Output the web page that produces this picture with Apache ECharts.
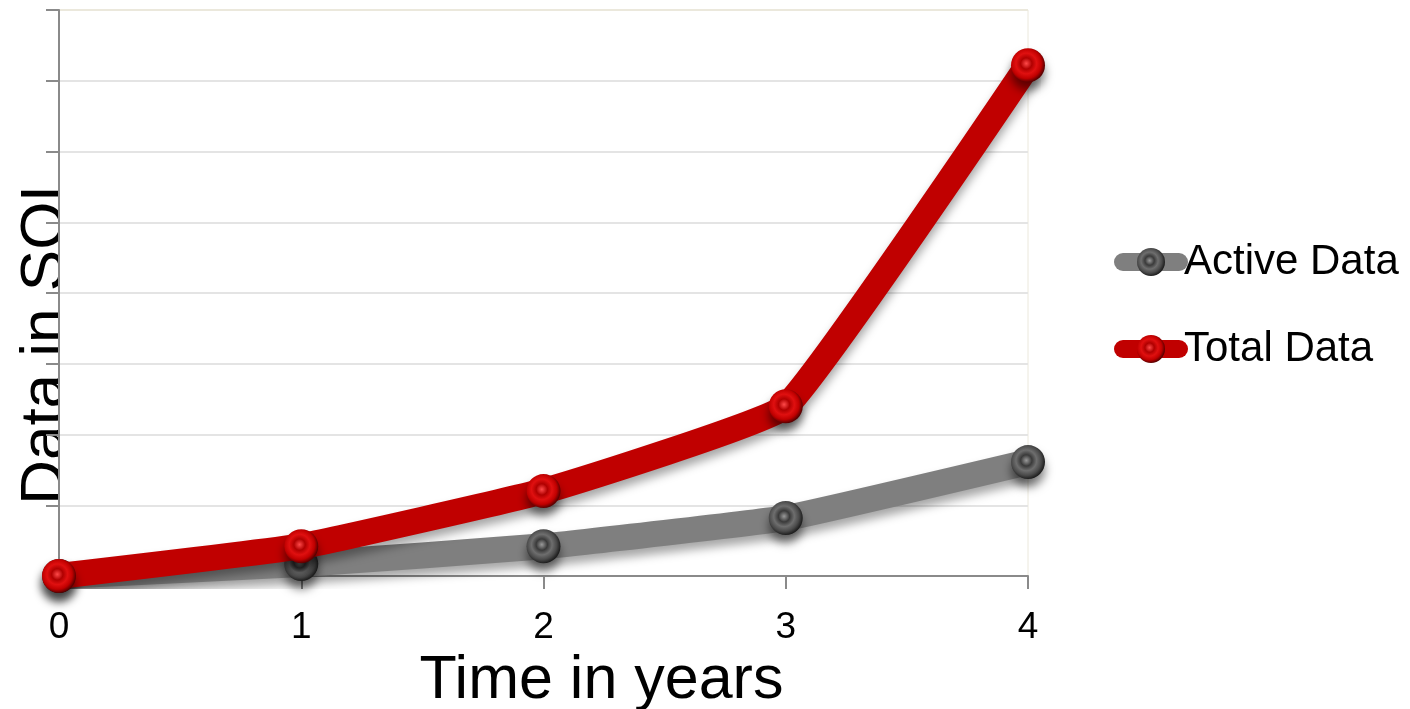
<!DOCTYPE html>
<html>
<head>
<meta charset="utf-8">
<script src="https://cdn.jsdelivr.net/npm/echarts@6/dist/echarts.min.js"></script>
<style>
html,body{margin:0;padding:0;background:#fff;}
#main{width:1410px;height:709px;}
</style>
</head>
<body>
<div id="main"></div>
<script>
const categories = ['0', '1', '2', '3', '4'];
const activeData = [0, 0.17, 0.42, 0.82, 1.61];
const totalData = [0, 0.42, 1.2, 2.4, 7.22];
const seriesNames = ['Active Data', 'Total Data'];
const xTitle = 'Time in years';
const yTitle = 'Data in SQL';

const FONT = '"Liberation Sans", Arial, sans-serif';

function marker(kind) {
  if (kind === 'red') {
    return {
      type: 'radial', x: 0.45, y: 0.45, r: 0.55,
      colorStops: [
        { offset: 0, color: '#ff4a4a' },
        { offset: 0.3, color: '#b00000' },
        { offset: 0.55, color: '#e01010' },
        { offset: 0.8, color: '#c00000' },
        { offset: 1, color: '#5a0000' }
      ]
    };
  }
  return {
    type: 'radial', x: 0.45, y: 0.45, r: 0.55,
    colorStops: [
      { offset: 0, color: '#9a9a9a' },
      { offset: 0.3, color: '#3a3a3a' },
      { offset: 0.55, color: '#6e6e6e' },
      { offset: 0.8, color: '#4a4a4a' },
      { offset: 1, color: '#1e1e1e' }
    ]
  };
}

const chart = echarts.init(document.getElementById('main'), null, { renderer: 'canvas' });

const gridLineColors = ['#e4e4e4','#e4e4e4','#e4e4e4','#e4e4e4','#e4e4e4','#e4e4e4','#e4e4e4','#e4e4e4','#ebe8dc'];

chart.setOption({
  animation: false,
  backgroundColor: '#ffffff',
  textStyle: { fontFamily: FONT },
  grid: {
    left: 59, right: 382, top: 10, bottom: 133,
    outerBoundsMode: 'none',
    containLabel: false,
    show: true, backgroundColor: '#ffffff', borderColor: '#ebe8dc', borderWidth: 1
  },
  graphic: [{
    type: 'text',
    x: 46, y: 336,
    rotation: Math.PI / 2,
    z: -1,
    style: {
      text: yTitle,
      font: '62px ' + FONT,
      fill: '#000',
      align: 'center', verticalAlign: 'middle',
      textAlign: 'center', textVerticalAlign: 'middle'
    }
  }],
  legend: {
    orient: 'vertical',
    left: 1114, top: 241,
    padding: 0,
    itemWidth: 56, itemHeight: 35, itemGap: 45,
    data: seriesNames,
    textStyle: { fontSize: 42, color: '#000', fontFamily: FONT },
    lineStyle: { width: 18, cap: 'round' }
  },
  xAxis: {
    type: 'category',
    data: categories,
    boundaryGap: false,
    name: xTitle,
    nameLocation: 'middle',
    nameGap: 62,
    nameTextStyle: { fontSize: 61, color: '#000', fontFamily: FONT, padding: [0, 0, 0, 116] },
    axisLine: { lineStyle: { color: '#8a8a8a', width: 2 } },
    axisTick: { show: true, length: 13, alignWithLabel: true, lineStyle: { color: '#8a8a8a', width: 2 } },
    axisLabel: { fontSize: 37, color: '#000', margin: 33, fontFamily: FONT },
    splitLine: { show: false }
  },
  yAxis: {
    type: 'value',
    min: 0, max: 8, interval: 1,
    axisLine: { show: true, lineStyle: { color: '#8a8a8a', width: 2 } },
    axisTick: { show: true, length: 13, lineStyle: { color: '#8a8a8a', width: 2 } },
    axisLabel: { show: false },
    splitLine: { show: true, lineStyle: { color: gridLineColors, width: 2 } }
  },
  series: [
    {
      name: seriesNames[0],
      type: 'line',
      data: activeData,
      smooth: 0.1,
      symbol: 'circle',
      symbolSize: 34,
      color: '#7f7f7f',
      lineStyle: { color: '#7f7f7f', width: 26, shadowColor: 'rgba(0,0,0,0.35)', shadowBlur: 10, shadowOffsetY: 7 },
      itemStyle: { color: marker('gray'), shadowColor: 'rgba(0,0,0,0.5)', shadowBlur: 10, shadowOffsetY: 8 },
      z: 2
    },
    {
      name: seriesNames[1],
      type: 'line',
      data: totalData,
      smooth: 0.1,
      symbol: 'circle',
      symbolSize: 34,
      color: '#c00000',
      lineStyle: { color: '#c00000', width: 26, shadowColor: 'rgba(0,0,0,0.35)', shadowBlur: 10, shadowOffsetY: 7 },
      itemStyle: { color: marker('red'), shadowColor: 'rgba(0,0,0,0.5)', shadowBlur: 10, shadowOffsetY: 8 },
      z: 3
    }
  ]
});
</script>
</body>
</html>
